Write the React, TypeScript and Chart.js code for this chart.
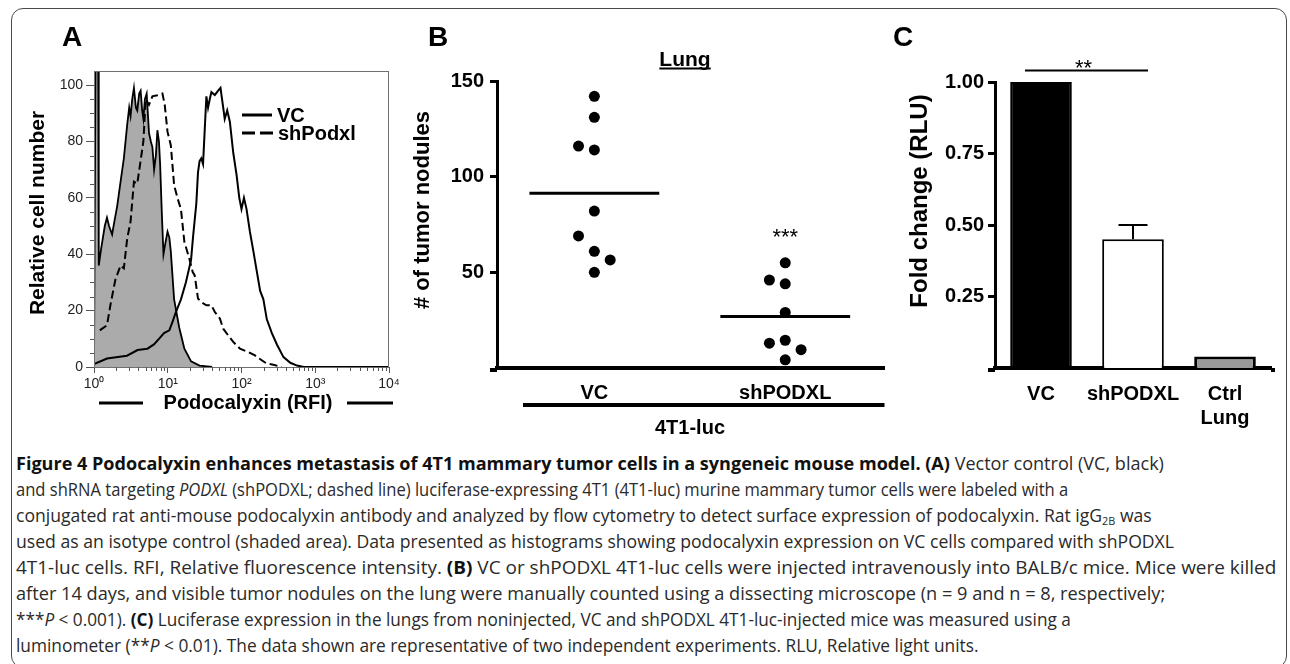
import React, { useEffect, useLayoutEffect, useRef } from 'react';
import { Chart, registerables } from 'chart.js';

Chart.register(...registerables);

const SANS = '"Liberation Sans", Arial, Helvetica, sans-serif';

// ---------- Panel A: flow cytometry histogram (RFI vs relative cell number) ----------
const isoRFI = [1, 1.05, 1.14, 1.16, 1.25, 1.4, 1.5, 1.6, 1.76, 1.9, 2.06, 2.3, 2.54, 2.82, 3.0, 3.13, 3.3, 3.48, 3.7, 3.86, 4.1, 4.29, 4.5, 4.67, 4.9, 5.18, 5.57, 5.9, 6.19, 6.53, 6.9, 7.24, 7.6, 7.88, 8.3, 8.75, 9.3, 9.93, 10.5, 11.0, 12.2, 14.3, 16.8, 20.7, 27, 40];
const isoCount = [0, 110, 110, 36, 42, 50, 53, 50, 47, 52, 57, 66, 74, 86, 92, 89, 95, 99, 92, 91, 97, 98, 91, 88, 95, 97, 83, 80, 78, 70, 75, 84, 80, 72, 55, 40, 44, 48, 46, 41, 24, 14, 6.5, 2, 0.5, 0];

const vcRFI = [1, 1.5, 2.8, 3.9, 5.3, 6.5, 7.6, 8.9, 10.5, 11.6, 12.9, 15.1, 17.6, 20.7, 22, 24.4, 25.7, 27, 28.5, 30.1, 31.7, 33.4, 35.2, 37.1, 39.1, 43.5, 48.3, 51.9, 56.5, 59.2, 64, 69.5, 77.3, 85.9, 93.3, 100, 108, 117, 130, 145, 161, 179, 198, 220, 258, 302, 371, 459, 566, 700, 10000];
const vcCount = [1, 3, 4, 6, 6.5, 8, 10, 12, 13, 16, 19.5, 24, 30, 38, 46, 58, 69, 73, 74, 72, 84, 96, 92, 95, 97.5, 96.5, 98, 99, 92, 88, 91, 87, 76, 68, 60, 56, 60, 56, 48, 41, 34, 27, 24, 17, 12, 8, 3.5, 1.5, 0.5, 0, 0];

const shRFI = [1.2, 1.29, 1.5, 1.67, 1.95, 2.29, 2.54, 2.82, 3.13, 3.48, 3.86, 4.2, 4.67, 5.02, 5.57, 6.19, 7.24, 8.47, 9.1, 9.93, 11.0, 12.2, 13.6, 15.1, 16.8, 19.6, 21.8, 23.2, 25.7, 28.5, 33.4, 39.1, 43.5, 50.9, 56.5, 66.1, 77.3, 95.4, 124, 152, 188, 220, 271, 350];
const shCount = [13, 13.6, 14.8, 22, 31, 36, 35, 45.6, 51.5, 65.7, 65, 71.6, 80, 95, 93, 96, 96.4, 97, 93, 83.4, 78.7, 64.5, 59.8, 56, 44.4, 38.5, 33.7, 32.5, 24.3, 23, 21.9, 21.9, 19.5, 17.2, 13.6, 11.2, 8.9, 6.5, 5.3, 4.1, 2.4, 1.2, 0.8, 0];

const aXTicks = [1, 10, 100, 1000, 10000];
const aXTickLabels = ['10\u2070', '10\u00B9', '10\u00B2', '10\u00B3', '10\u2074'];
const aYTicks = [0, 20, 40, 60, 80, 100];
const aYMinorStep = 5;
const aLegend = ['VC', 'shPodxl'];

// ---------- Panel B: tumor nodules ----------
const bGroups = ['VC', 'shPODXL'];
const bVC = [142, 131, 116, 114, 82, 69, 61, 56.5, 50];
const bVCSlot = [0, 0, -1, 0, 0, -1, 0, 1, 0];
const bSH = [55, 46, 44, 29, 13, 14.5, 9.6, 4.3];
const bSHSlot = [0, -1, 0, 0, -1, 0, 1, 0];
const bYTicks = [50, 100, 150];

// ---------- Panel C: luciferase fold change ----------
const cCategories = ['VC', 'shPODXL', ['Ctrl', 'Lung']];
const cValues = [1.0, 0.45, 0.04];
const cErrors = [0, 0.05, 0];
const cColors = ['#000000', '#ffffff', '#9a9a9a'];
const cYTicks = [0.25, 0.5, 0.75, 1.0];

// ---------- Caption ----------
type Seg = { t: string; b?: boolean; i?: boolean; sub?: boolean };
const captionLines: Seg[][] = [
  [{ t: 'Figure 4 Podocalyxin enhances metastasis of 4T1 mammary tumor cells in a syngeneic mouse model. (A)', b: true }, { t: ' Vector control (VC, black)' }],
  [{ t: 'and shRNA targeting ' }, { t: 'PODXL', i: true }, { t: ' (shPODXL; dashed line) luciferase-expressing 4T1 (4T1-luc) murine mammary tumor cells were labeled with a' }],
  [{ t: 'conjugated rat anti-mouse podocalyxin antibody and analyzed by flow cytometry to detect surface expression of podocalyxin. Rat igG' }, { t: '2B', sub: true }, { t: ' was' }],
  [{ t: 'used as an isotype control (shaded area). Data presented as histograms showing podocalyxin expression on VC cells compared with shPODXL' }],
  [{ t: '4T1-luc cells. RFI, Relative fluorescence intensity. ' }, { t: '(B)', b: true }, { t: ' VC or shPODXL 4T1-luc cells were injected intravenously into BALB/c mice. Mice were killed' }],
  [{ t: 'after 14 days, and visible tumor nodules on the lung were manually counted using a dissecting microscope (n = 9 and n = 8, respectively;' }],
  [{ t: '***' }, { t: 'P', i: true }, { t: ' < 0.001). ' }, { t: '(C)', b: true }, { t: ' Luciferase expression in the lungs from noninjected, VC and shPODXL 4T1-luc-injected mice was measured using a' }],
  [{ t: 'luminometer (**' }, { t: 'P', i: true }, { t: ' < 0.01). The data shown are representative of two independent experiments. RLU, Relative light units.' }],
];
const captionRight = [1164, 1068, 1152, 1174, 1276, 1165, 1071, 978];

// ---------- helpers ----------
const fixW = (w: number) => (s: any) => { s.width = w; s.paddingTop = 0; s.paddingBottom = 0; s.paddingLeft = 0; s.paddingRight = 0; };
const fixH = (h: number) => (s: any) => { s.height = h; s.paddingTop = 0; s.paddingBottom = 0; s.paddingLeft = 0; s.paddingRight = 0; };
const setTicks = (vals: number[]) => (s: any) => { s.ticks = vals.map((v) => ({ value: v })); };
const bold = (size: number) => ({ family: SANS, size, weight: 'bold' as const });

function seg(ctx: CanvasRenderingContext2D, x1: number, y1: number, x2: number, y2: number) {
  ctx.beginPath(); ctx.moveTo(x1, y1); ctx.lineTo(x2, y2); ctx.stroke();
}
function label(ctx: CanvasRenderingContext2D, s: string, x: number, y: number, font: string, align: CanvasTextAlign = 'left', base: CanvasTextBaseline = 'middle') {
  ctx.font = font; ctx.textAlign = align; ctx.textBaseline = base; ctx.fillText(s, x, y);
}
function vlabel(ctx: CanvasRenderingContext2D, s: string, x: number, y: number, font: string) {
  ctx.save(); ctx.translate(x, y); ctx.rotate(-Math.PI / 2);
  label(ctx, s, 0, 0, font, 'center', 'middle'); ctx.restore();
}
const mean = (a: number[]) => a.reduce((p, c) => p + c, 0) / a.length;

const H = 445; // canvas height for all panels (plot bottom at y=367/368)

// ---------- Panel A config ----------
function makeA(): any {
  const pts = (xs: number[], ys: number[]) => xs.map((x, i) => ({ x, y: ys[i] }));
  const extras = {
    id: 'extrasA',
    afterDraw(chart: any) {
      const { ctx, chartArea: ca, scales } = chart;
      const xs = scales.x, ys = scales.y;
      ctx.save();
      ctx.strokeStyle = '#707070'; ctx.lineWidth = 1;
      ctx.strokeRect(ca.left + 0.5, ca.top + 0.5, ca.right - ca.left - 1, ca.bottom - ca.top);
      ctx.strokeStyle = '#555';
      for (let v = aYMinorStep; v < 105; v += aYMinorStep) {
        if (aYTicks.includes(v)) continue;
        const py = Math.round(ys.getPixelForValue(v)) + 0.5;
        seg(ctx, ca.left - 4, py, ca.left, py);
      }
      for (let d = 0; d < aXTicks.length - 1; d++) {
        for (let m = 2; m <= 9; m++) {
          const px = Math.round(xs.getPixelForValue(aXTicks[d] * m)) + 0.5;
          seg(ctx, px, ca.bottom, px, ca.bottom + 4);
        }
      }
      // legend
      ctx.strokeStyle = '#000'; ctx.fillStyle = '#000'; ctx.lineWidth = 3;
      seg(ctx, 242, 115, 272, 115);
      ctx.setLineDash([13, 5]); seg(ctx, 242, 133, 274, 133); ctx.setLineDash([]);
      label(ctx, aLegend[0], 277, 116, `bold 20px ${SANS}`);
      label(ctx, aLegend[1], 278, 134, `bold 20px ${SANS}`);
      // axis titles
      label(ctx, 'Podocalyxin (RFI)', 248, 403, `bold 20px ${SANS}`, 'center');
      ctx.lineWidth = 3;
      seg(ctx, 99, 403, 143, 403);
      seg(ctx, 347, 403, 393, 403);
      vlabel(ctx, 'Relative cell number', 38, 213, `bold 21px ${SANS}`);
      label(ctx, 'A', 62, 38, `bold 28px ${SANS}`);
      ctx.restore();
    },
  };
  return {
    type: 'line',
    data: {
      datasets: [
        { label: 'VC', data: pts(vcRFI, vcCount), borderColor: '#000', borderWidth: 2, pointRadius: 0, fill: false, order: 1 },
        { label: 'shPodxl', data: pts(shRFI, shCount), borderColor: '#000', borderWidth: 2, borderDash: [8, 4], pointRadius: 0, fill: false, order: 2 },
        { label: 'Isotype', data: pts(isoRFI, isoCount), borderColor: '#000', borderWidth: 1.8, backgroundColor: '#ababab', pointRadius: 0, fill: 'origin', order: 3 },
      ],
    },
    options: {
      animation: false, responsive: false,
      layout: { padding: { left: 0, top: 71, right: 11, bottom: 0 } },
      plugins: { legend: { display: false }, tooltip: { enabled: false }, title: { display: false } },
      scales: {
        x: {
          type: 'logarithmic', min: 1, max: 10000,
          afterBuildTicks: setTicks(aXTicks),
          ticks: { autoSkip: false, maxRotation: 0, padding: 3, color: '#222', font: { family: SANS, size: 14 }, callback: (v: any) => aXTickLabels[aXTicks.indexOf(Number(v))] ?? '' },
          grid: { drawOnChartArea: false, drawTicks: true, tickLength: 6, color: '#555', lineWidth: 1 },
          border: { display: false },
          afterFit: fixH(H - 367),
        },
        y: {
          type: 'linear', min: 0, max: 105,
          afterBuildTicks: setTicks(aYTicks),
          ticks: { padding: 3, color: '#222', font: { family: SANS, size: 14 } },
          grid: { drawOnChartArea: false, drawTicks: true, tickLength: 8, color: '#555', lineWidth: 1 },
          border: { display: false },
          afterFit: fixW(94),
        },
      },
    },
    plugins: [extras],
  };
}

// ---------- Panel B config ----------
function makeB(): any {
  const slotStep = 0.083;
  const half = 0.34;
  const mVC = mean(bVC), mSH = mean(bSH);
  const extras = {
    id: 'extrasB',
    afterDraw(chart: any) {
      const { ctx, chartArea: ca, scales } = chart;
      const xs = scales.x, ys = scales.y;
      ctx.save();
      ctx.strokeStyle = '#000'; ctx.fillStyle = '#000';
      ctx.lineWidth = 4; seg(ctx, ca.left - 7, ca.bottom + 2, ca.left, ca.bottom + 2);
      label(ctx, '***', xs.getPixelForValue(2), ys.getPixelForValue(Math.max(...bSH) + 10), `22px ${SANS}`, 'center', 'alphabetic');
      ctx.lineWidth = 4; seg(ctx, 123, 405, ca.right, 405);
      label(ctx, '4T1-luc', 290, 428, `bold 20px ${SANS}`, 'center');
      label(ctx, 'Lung', 285, 60, `bold 21px ${SANS}`, 'center');
      ctx.font = `bold 21px ${SANS}`;
      const lw = ctx.measureText('Lung').width;
      ctx.lineWidth = 2; seg(ctx, 285 - lw / 2, 68.5, 285 + lw / 2, 68.5);
      vlabel(ctx, '# of tumor nodules', 23, 210, `bold 22px ${SANS}`);
      label(ctx, 'B', 28, 38, `bold 28px ${SANS}`);
      ctx.restore();
    },
  };
  const dot = { pointRadius: 5.5, pointBackgroundColor: '#000', pointBorderWidth: 0, showLine: false };
  return {
    type: 'scatter',
    data: {
      datasets: [
        { label: bGroups[0], data: bVC.map((v, i) => ({ x: 1 + bVCSlot[i] * slotStep, y: v })), ...dot },
        { label: bGroups[1], data: bSH.map((v, i) => ({ x: 2 + bSHSlot[i] * slotStep, y: v })), ...dot },
        { label: 'mean VC', data: [{ x: 1 - half, y: mVC }, { x: 1 + half, y: mVC }], showLine: true, borderColor: '#000', borderWidth: 3, pointRadius: 0 },
        { label: 'mean sh', data: [{ x: 2 - half, y: mSH }, { x: 2 + half, y: mSH }], showLine: true, borderColor: '#000', borderWidth: 3, pointRadius: 0 },
      ],
    },
    options: {
      animation: false, responsive: false,
      layout: { padding: { left: 0, top: 81, right: 4, bottom: 0 } },
      plugins: { legend: { display: false }, tooltip: { enabled: false } },
      scales: {
        x: {
          type: 'linear', min: 0.49, max: 2.52,
          afterBuildTicks: setTicks([1, 2]),
          ticks: { autoSkip: false, maxRotation: 0, padding: 5, color: '#000', font: bold(20), callback: (v: any) => bGroups[Number(v) - 1] ?? '' },
          grid: { display: false },
          border: { display: true, width: 4, color: '#000' },
          afterFit: fixH(H - 368),
        },
        y: {
          type: 'linear', min: 0, max: 150,
          afterBuildTicks: setTicks(bYTicks),
          ticks: { padding: 6, color: '#000', font: bold(20) },
          grid: { drawOnChartArea: false, drawTicks: true, tickLength: 7, lineWidth: 3, color: '#000' },
          border: { display: true, width: 3, color: '#000' },
          afterFit: fixW(97),
        },
      },
    },
    plugins: [extras],
  };
}

// ---------- Panel C config ----------
function makeC(): any {
  const extras = {
    id: 'extrasC',
    afterDraw(chart: any) {
      const { ctx, chartArea: ca, scales } = chart;
      const xs = scales.x, ys = scales.y;
      ctx.save();
      ctx.strokeStyle = '#000'; ctx.fillStyle = '#000';
      ctx.lineWidth = 4; seg(ctx, ca.left - 7, ca.bottom + 2, ca.left, ca.bottom + 2);
      seg(ctx, ca.right, ca.bottom + 2, ca.right + 4, ca.bottom + 2);
      ctx.lineWidth = 2;
      cValues.forEach((v, i) => {
        const e = cErrors[i];
        if (!e) return;
        const px = xs.getPixelForValue(i);
        const y1 = ys.getPixelForValue(v), y2 = ys.getPixelForValue(v + e);
        seg(ctx, px, y1, px, y2);
        seg(ctx, px - 14.5, y2, px + 14.5, y2);
      });
      const yb = ys.getPixelForValue(1.04);
      const xa = xs.getPixelForValue(0) - 16, xb = xs.getPixelForValue(1) + 15;
      seg(ctx, xa, yb, xb, yb);
      label(ctx, '**', (xa + xb) / 2 - 3, yb + 4, `22px ${SANS}`, 'center', 'alphabetic');
      vlabel(ctx, 'Fold change (RLU)', 30, 201, `bold 24px ${SANS}`);
      label(ctx, 'C', 3, 38, `bold 28px ${SANS}`);
      ctx.restore();
    },
  };
  return {
    type: 'bar',
    data: {
      labels: cCategories,
      datasets: [{
        data: cValues, backgroundColor: cColors, borderColor: '#000', borderWidth: [2, 2, 3],
        barPercentage: 0.67, categoryPercentage: 1,
      }],
    },
    options: {
      animation: false, responsive: false,
      layout: { padding: { left: 0, top: 82, right: 19, bottom: 0 } },
      plugins: { legend: { display: false }, tooltip: { enabled: false } },
      scales: {
        x: {
          type: 'category',
          ticks: { autoSkip: false, maxRotation: 0, padding: 6, color: '#000', font: bold(20) },
          grid: { display: false },
          border: { display: true, width: 4, color: '#000' },
          afterFit: fixH(H - 368),
        },
        y: {
          type: 'linear', min: 0, max: 1,
          afterBuildTicks: setTicks(cYTicks),
          ticks: { padding: 4, color: '#000', font: bold(20), callback: (v: any) => Number(v).toFixed(2) },
          grid: { drawOnChartArea: false, drawTicks: true, tickLength: 7, lineWidth: 3, color: '#000' },
          border: { display: true, width: 3, color: '#000' },
          afterFit: fixW(105),
        },
      },
    },
    plugins: [extras],
  };
}

function ChartBox({ left, top, width, height, make }: { left: number; top: number; width: number; height: number; make: () => any }) {
  const ref = useRef<HTMLCanvasElement>(null);
  useEffect(() => {
    const chart = new Chart(ref.current as HTMLCanvasElement, make());
    return () => chart.destroy();
  }, []);
  return (
    <div style={{ position: 'absolute', left, top, width, height }}>
      <canvas ref={ref} width={width} height={height} style={{ width, height, display: 'block' }} />
    </div>
  );
}

function Caption() {
  const refs = useRef<(HTMLDivElement | null)[]>([]);
  useLayoutEffect(() => {
    const fit = () => {
      refs.current.forEach((el, i) => {
        if (!el) return;
        el.style.transform = 'none';
        const w = el.offsetWidth;
        if (w > 0) el.style.transform = `scaleX(${(captionRight[i] - 16) / w})`;
      });
    };
    fit();
    if ((document as any).fonts) (document as any).fonts.ready.then(fit);
  }, []);
  return (
    <div style={{ position: 'absolute', left: 16, top: 450, fontFamily: '"Open Sans", "Noto Sans", sans-serif', fontSize: 17.5, lineHeight: '26px', color: '#2a2a2a' }}>
      {captionLines.map((line, i) => (
        <div key={i} ref={(el) => { refs.current[i] = el; }} style={{ whiteSpace: 'nowrap', width: 'max-content', transformOrigin: '0 0', height: 26 }}>
          {line.map((s, j) => {
            if (s.sub) return <sub key={j} style={{ fontSize: '0.62em', verticalAlign: '-0.3em', lineHeight: 0 }}>{s.t}</sub>;
            return (
              <span key={j} style={{ fontWeight: s.b ? 700 : 400, fontStyle: s.i ? 'italic' : 'normal', color: s.b ? '#111' : undefined }}>{s.t}</span>
            );
          })}
        </div>
      ))}
    </div>
  );
}

export default function App() {
  return (
    <div style={{ position: 'absolute', left: 0, top: 0, width: 1290, height: 664, overflow: 'hidden', background: '#fff' }}>
      <div style={{ position: 'absolute', left: 11, top: 8, width: 1276, height: 660, border: '1.5px solid #4a4a4a', borderRadius: 12, boxSizing: 'border-box' }} />
      <ChartBox left={0} top={0} width={400} height={H} make={makeA} />
      <ChartBox left={400} top={0} width={490} height={H} make={makeB} />
      <ChartBox left={890} top={0} width={400} height={H} make={makeC} />
      <Caption />
    </div>
  );
}
